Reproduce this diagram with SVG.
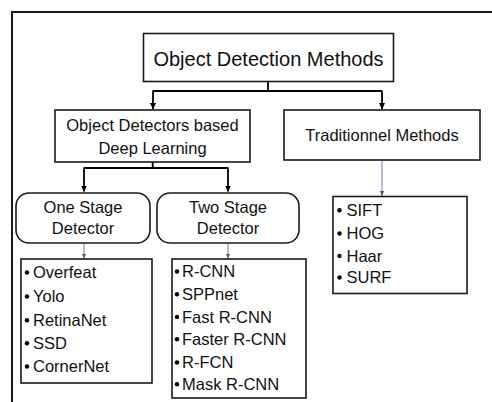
<svg xmlns="http://www.w3.org/2000/svg" width="492" height="402" viewBox="0 0 492 402">
<style>
.box{fill:#fff;stroke:#1a1a1a;stroke-width:1.6}
.t{font-family:"Liberation Sans",Arial,sans-serif;font-size:16.5px;fill:#111}
.c{text-anchor:middle}
.big{font-size:20px}
.k{fill:none;stroke:#000;stroke-width:1.8}
.thin{fill:none;stroke:#6b7d99;stroke-width:1}
.dot{fill:#000}
</style>
<defs>
<marker id="ah" markerWidth="7" markerHeight="7" refX="6" refY="3.5" orient="auto" markerUnits="userSpaceOnUse">
<path d="M0,0.5 L6.5,3.5 L0,6.5 Z" fill="#000"/>
</marker>
<marker id="ahs" markerWidth="6" markerHeight="6" refX="5" refY="3" orient="auto" markerUnits="userSpaceOnUse">
<path d="M0,0.8 L5,3 L0,5.2 Z" fill="#4a5a78"/>
</marker>
</defs>
<rect width="492" height="402" fill="#fff"/>
<path d="M12,402 V12 H492" fill="none" stroke="#1a1a1a" stroke-width="2"/>
<g id="connectors">
<path class="k" d="M268,82 V91 M153,91 H382"/>
<path class="k" d="M153,90.5 V109" marker-end="url(#ah)"/>
<path class="k" d="M382,90.5 V109" marker-end="url(#ah)"/>
<path class="k" d="M152.7,162 V168 M84,168 H228"/>
<path class="k" d="M84,167.5 V191.5" marker-end="url(#ah)"/>
<path class="k" d="M228,167.5 V191.5" marker-end="url(#ah)"/>
<path class="thin" d="M84,243.5 V258.5" marker-end="url(#ahs)"/>
<path class="thin" d="M228,243.5 V258.5" marker-end="url(#ahs)"/>
<path class="thin" d="M382,160.5 V196" marker-end="url(#ahs)"/>
</g>
<g id="root">
<rect class="box" x="143.5" y="33.5" width="250" height="48"/>
<text class="t c big" x="268.5" y="65.5">Object Detection Methods</text>
</g>
<g id="deep">
<rect class="box" x="55" y="110" width="195" height="52"/>
<text class="t c" x="152.5" y="131">Object Detectors based</text>
<text class="t c" x="152.5" y="154">Deep Learning</text>
</g>
<g id="traditional">
<rect class="box" x="284" y="110" width="196" height="50"/>
<text class="t c" x="382" y="141">Traditionnel Methods</text>
</g>
<g id="one-stage">
<rect class="box" x="16" y="193" width="134" height="50" rx="13"/>
<text class="t c" x="83" y="212.7">One Stage</text>
<text class="t c" x="83" y="234.3">Detector</text>
</g>
<g id="two-stage">
<rect class="box" x="157" y="193" width="142" height="50" rx="13"/>
<text class="t c" x="228" y="212.7">Two Stage</text>
<text class="t c" x="228" y="234.3">Detector</text>
</g>
<g id="one-list">
<rect class="box" x="21" y="259" width="131" height="124"/>
<circle class="dot" cx="27" cy="272.5" r="2.2"/><text class="t" x="33" y="278.3">Overfeat</text>
<circle class="dot" cx="27" cy="296.5" r="2.2"/><text class="t" x="33" y="302.3">Yolo</text>
<circle class="dot" cx="27" cy="320.2" r="2.2"/><text class="t" x="33" y="326">RetinaNet</text>
<circle class="dot" cx="27" cy="343.2" r="2.2"/><text class="t" x="33" y="349">SSD</text>
<circle class="dot" cx="27" cy="366.5" r="2.2"/><text class="t" x="33" y="372.3">CornerNet</text>
</g>
<g id="two-list">
<rect class="box" x="172" y="259" width="134" height="139"/>
<circle class="dot" cx="177" cy="271.5" r="2.2"/><text class="t" x="182" y="277.3">R-CNN</text>
<circle class="dot" cx="177" cy="294.2" r="2.2"/><text class="t" x="182" y="300">SPPnet</text>
<circle class="dot" cx="177" cy="316.9" r="2.2"/><text class="t" x="182" y="322.7">Fast R-CNN</text>
<circle class="dot" cx="177" cy="339.2" r="2.2"/><text class="t" x="182" y="345">Faster R-CNN</text>
<circle class="dot" cx="177" cy="362.5" r="2.2"/><text class="t" x="182" y="368.3">R-FCN</text>
<circle class="dot" cx="177" cy="384.2" r="2.2"/><text class="t" x="182" y="390">Mask R-CNN</text>
</g>
<g id="trad-list">
<rect class="box" x="333" y="196.5" width="134" height="97"/>
<circle class="dot" cx="339.5" cy="210.2" r="2.2"/><text class="t" x="346.5" y="216">SIFT</text>
<circle class="dot" cx="339.5" cy="233.5" r="2.2"/><text class="t" x="346.5" y="239.3">HOG</text>
<circle class="dot" cx="339.5" cy="255.9" r="2.2"/><text class="t" x="346.5" y="261.7">Haar</text>
<circle class="dot" cx="339.5" cy="277.5" r="2.2"/><text class="t" x="346.5" y="283.3">SURF</text>
</g>
</svg>
